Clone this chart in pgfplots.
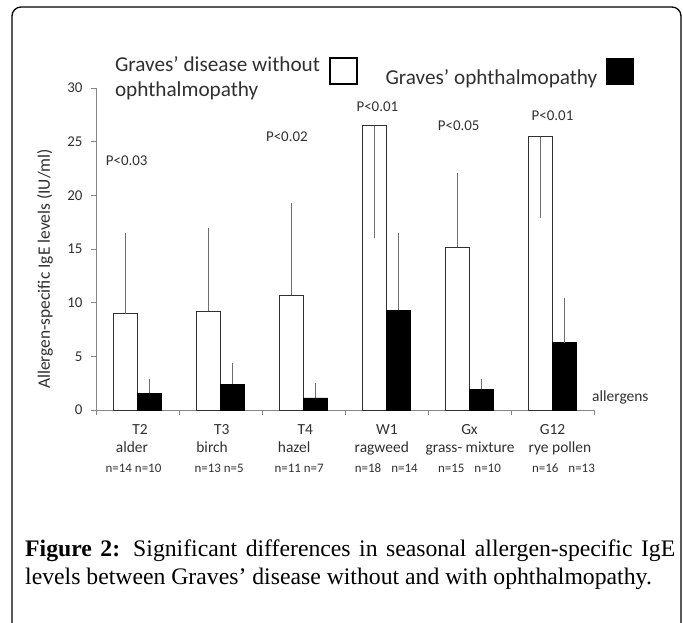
\documentclass[border=0pt]{standalone}
\usepackage{fontspec}
\setmainfont{Carlito}
\newfontfamily\capfont{Liberation Serif}
\usepackage{pgfplots}
\pgfplotsset{compat=1.18}
\definecolor{axisgray}{HTML}{868686}
\definecolor{errgray}{HTML}{6E6E6E}
\definecolor{txtgray}{HTML}{303030}
\newcommand\sh[2]{\makebox[0pt]{\hspace{#1}#2\hspace{-#1}}}
\newcommand\nf{\fontsize{13}{14}\selectfont}
\begin{document}
\begin{tikzpicture}
\useasboundingbox (0,0) rectangle (683bp,-623bp);
\clip (0,0) rectangle (683bp,-623bp);
\draw[line width=1.3bp, rounded corners=9bp] (12bp,-700bp) -- (12bp,-7bp) -- (681bp,-7bp) -- (681bp,-700bp);
\begin{axis}[
  at={(96bp,-410bp)}, anchor=south west,
  scale only axis, width=498bp, height=322bp,
  xmin=-0.5, xmax=5.5, ymin=0, ymax=30,
  axis x line*=bottom, axis y line*=left,
  axis line style={-, draw=axisgray, line width=0.8bp},
  tick align=outside, major tick length=5bp,
  ytick={0,5,...,30},
  ytick style={draw=axisgray, line width=0.8bp},
  xtick={0,...,5},
  xtick style={draw=none},
  extra x ticks={-0.5,0.5,1.5,2.5,3.5,4.5,5.5},
  extra x tick labels={,,,,,,},
  extra x tick style={xtick style={draw=axisgray, line width=0.8bp}},
  xticklabels={
    {\sh{2.5bp}{T2}\\[2.5bp]\sh{-5.5bp}{alder}\\[4bp]{\nf\sh{-4bp}{n=14 n=10}}},
    {\sh{1.3bp}{T3}\\[2.5bp]\sh{-8.4bp}{birch}\\[4bp]{\nf\sh{-1.4bp}{n=13 n=5}}},
    {\sh{1.7bp}{T4}\\[2.5bp]\sh{-9.3bp}{hazel}\\[4bp]{\nf\sh{-4.3bp}{n=11 n=7}}},
    {\sh{0.5bp}{W1}\\[2.5bp]\sh{-4.7bp}{ragweed}\\[4bp]{\nf\sh{-0.2bp}{n=18\hspace{10bp}n=14}}},
    {\sh{0bp}{Gx}\\[2.5bp]\sh{0.6bp}{grass- mixture}\\[4bp]{\nf\sh{0bp}{n=15\hspace{10bp}n=10}}},
    {\sh{0bp}{G12}\\[2.5bp]\sh{7.5bp}{rye pollen}\\[4bp]{\nf\sh{11bp}{n=16\hspace{10bp}n=13}}}
  },
  /pgf/number format/assume math mode=true,
  yticklabel style={font=\fontsize{15}{18}\selectfont, text=txtgray, xshift=-5bp},
  xticklabel style={font=\fontsize{15.5}{16}\selectfont, text=txtgray, align=center, anchor=north, yshift=-6bp},
  ylabel={Allergen-specific IgE levels (IU/ml)},
  ylabel style={at={(rel axis cs:-0.1024,0.438)}, anchor=center, font=\fontsize{17.5}{20}\selectfont, text=txtgray},
  clip=false,
  legend columns=2,
  legend plot pos=right,
  legend cell align=left,
  legend style={draw=none, fill=none, inner sep=0pt, outer sep=0pt,
    at={(rel axis cs:0.0382,1.0963)}, anchor=north west,
    font=\fontsize{21.3}{25}\selectfont, text=txtgray,
    nodes={align=left, inner sep=0pt, outer sep=0pt},
    /tikz/column 1/.style={column sep=9bp},
    /tikz/column 2/.style={column sep=28bp},
    /tikz/column 3/.style={column sep=9bp}},
]
\addplot[ybar, bar width=0.2895, bar shift=0pt, fill=white, draw=txtgray, line width=0.8bp,
  legend image code/.code={\draw[fill=white, draw=black, line width=1.6bp] (0bp,-6.5bp) rectangle (27bp,19.5bp);},
  error bars/.cd, y dir=both, y explicit, error mark=none, error bar style={errgray, line width=0.8bp}]
coordinates {(-0.14475,8.97) += (0,7.49) -= (0,0) (0.85525,9.2) += (0,7.8) -= (0,0) (1.85525,10.7) += (0,8.6) -= (0,0)
  (2.85525,26.49) += (0,0) -= (0,10.49) (3.85525,15.16) += (0,6.94) -= (0,0) (4.85525,25.46) += (0,0) -= (0,7.6)};
\addlegendentry{Graves’ disease without\\ophthalmopathy}
\addplot[ybar, bar width=0.2895, bar shift=0pt, fill=black, draw=black, line width=0.8bp,
  legend image code/.code={\draw[fill=black, draw=black, line width=0.5bp] (0bp,-6.5bp) rectangle (27bp,19.5bp);},
  error bars/.cd, y dir=both, y explicit, error mark=none, error bar style={errgray, line width=0.8bp}]
coordinates {(0.14475,1.55) += (0,1.35) -= (0,0) (1.14475,2.42) += (0,1.93) -= (0,0) (2.14475,1.12) += (0,1.36) -= (0,0)
  (3.14475,9.29) += (0,7.17) -= (0,0) (4.14475,1.93) += (0,0.96) -= (0,0) (5.14475,6.27) += (0,4.13) -= (0,0)};
\addlegendentry{Graves’ ophthalmopathy}
\begin{scope}[every node/.style={font=\fontsize{15}{18}\selectfont, text=txtgray, inner sep=0pt}]
\node at (axis cs:-0.13,23.2) {P<0.03};
\node at (axis cs:1.80,25.5) {P<0.02};
\node at (axis cs:2.89,28.3) {P<0.01};
\node at (axis cs:3.87,26.5) {P<0.05};
\node at (axis cs:5.0,27.4) {P<0.01};
\end{scope}
\node[anchor=west, inner sep=0pt, xshift=-2bp, font=\fontsize{15.5}{18}\selectfont, text=txtgray] at (axis cs:5.5,1.2) {allergens};
\end{axis}
\node[anchor=north west, inner sep=0pt, text width=650bp, align=justify,
  font=\capfont\fontsize{23.8}{27.5}\selectfont] at (25bp,-540bp)
  {\tolerance=9000\textbf{Figure 2:} Significant differences in seasonal allergen-specific IgE\linebreak levels between Graves’ disease without and with ophthalmopathy.};
\end{tikzpicture}
\end{document}
